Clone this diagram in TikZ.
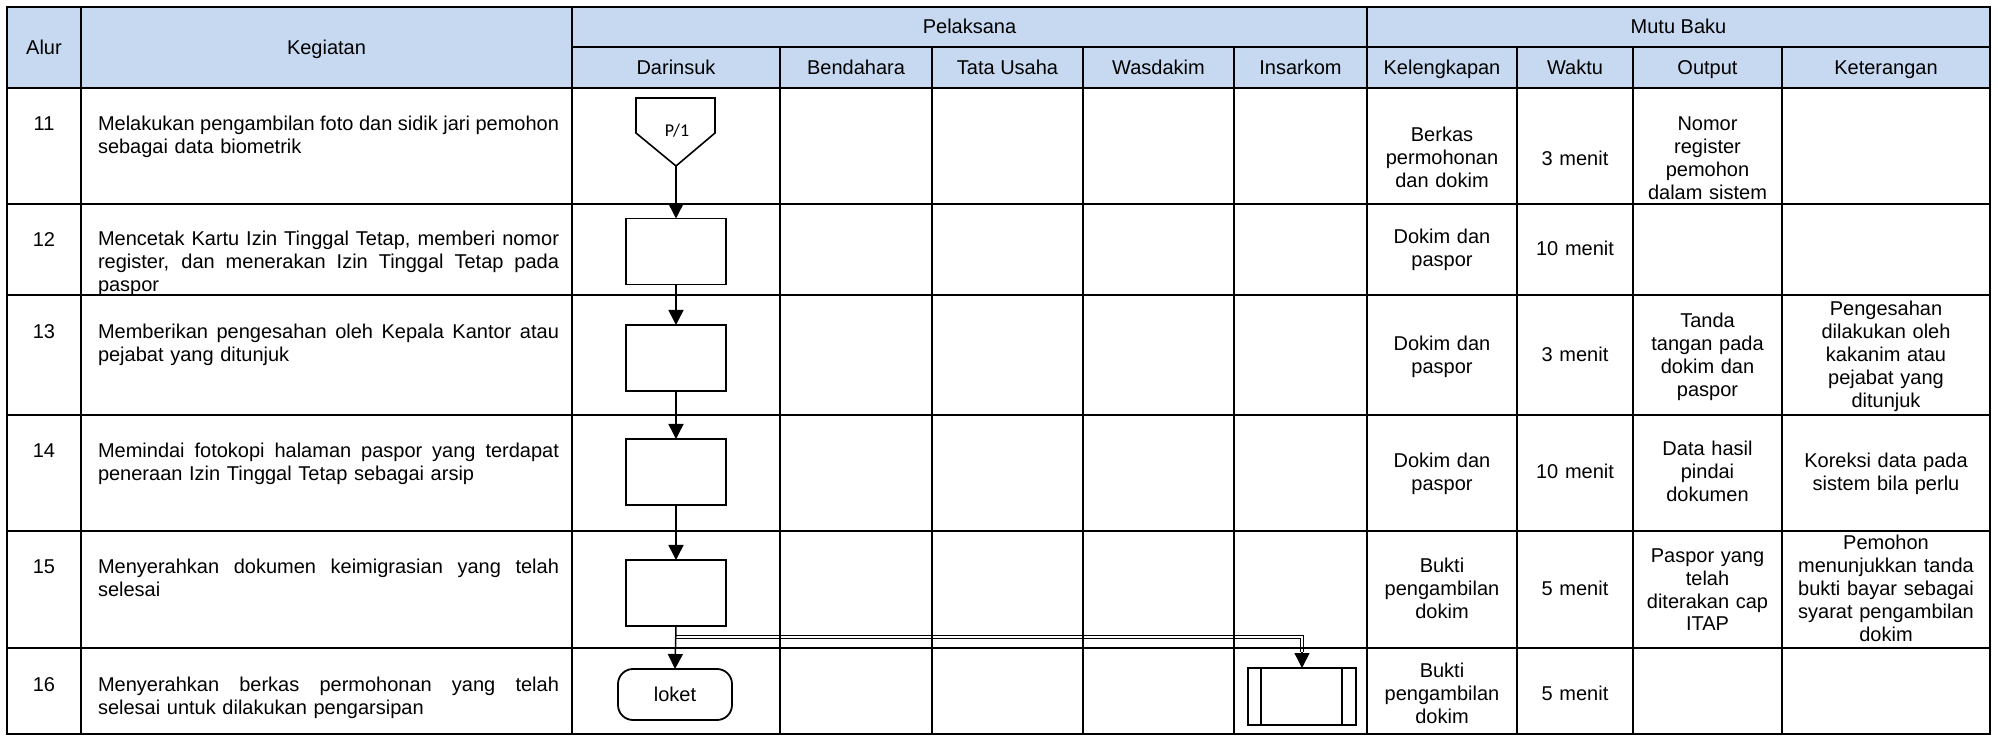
\documentclass[tikz,border=0pt]{standalone}
\usepackage{fontspec}
\setmainfont{Liberation Sans}
\newfontfamily\calfont{Carlito}
\usetikzlibrary{arrows.meta}
\definecolor{hdrblue}{RGB}{198,217,241}
\newcommand\jline[1]{\makebox[230.5pt][s]{\spaceskip=0pt\xspaceskip=0pt #1}}
\begin{document}
\begin{tikzpicture}[x=0.5pt,y=-0.5pt,
  every node/.style={inner sep=0pt, outer sep=0pt, font=\fontsize{10pt}{11.5pt}\selectfont},
  gridline/.style={line width=1.1pt, line cap=rect},
  hcell/.style={anchor=base, align=center},
  cell/.style={anchor=base, align=center, text width=100pt},
  keg/.style={anchor=base west, align=left, text width=230.5pt},
  num/.style={anchor=base},
  procbox/.style={draw, line width=0.9pt, minimum width=50pt, minimum height=33pt},
  arr/.style={line width=0.75pt, -{Triangle[length=7.5pt,width=7.5pt]}},
  dbl/.style={draw=black, double=white, double distance=0.8pt, line width=0.55pt}
]
\useasboundingbox (0,0) rectangle (1998,737);
% header background
\fill[hdrblue] (7,7) rectangle (1990,88);
% branch connector (drawn under the grid)
\coordinate (br) at (676,637);
\coordinate (bend) at (1302,637);
\coordinate (insin) at (1302,652);
\draw[dbl] (br) -- (bend) -- (insin);
% grid
\draw[gridline] (7,7) rectangle (1990,734);
\draw[gridline] (572,47) -- (1990,47);
\foreach \yy in {88,204,295,415,531,648} \draw[gridline] (7,\yy) -- (1990,\yy);
\foreach \xx in {81,572,1367} \draw[gridline] (\xx,7) -- (\xx,734);
\foreach \xx in {780,932,1083,1234,1517,1633,1782} \draw[gridline] (\xx,47) -- (\xx,734);
% header texts
\node[hcell] (hAlur) at (44,54.5) {Alur};
\node[hcell] (hKeg) at (326.5,54.5) {Kegiatan};
\node[hcell] (hPel) at (969.5,34) {Pelaksana};
\node[hcell] (hMutu) at (1678.5,34) {Mutu Baku};
\node[hcell] (hDar) at (676,74.5) {Darinsuk};
\node[hcell] (hBen) at (856,74.5) {Bendahara};
\node[hcell] (hTU) at (1007.5,74.5) {Tata Usaha};
\node[hcell] (hWas) at (1158.5,74.5) {Wasdakim};
\node[hcell] (hIns) at (1300.5,74.5) {Insarkom};
\node[hcell] (hKel) at (1442,74.5) {Kelengkapan};
\node[hcell] (hWak) at (1575,74.5) {Waktu};
\node[hcell] (hOut) at (1707.5,74.5) {Output};
\node[hcell] (hKet) at (1886,74.5) {Keterangan};
% row numbers
\node[num] (n11) at (44,131) {11};
\node[num] (n12) at (44,247) {12};
\node[num] (n13) at (44,339) {13};
\node[num] (n14) at (44,458) {14};
\node[num] (n15) at (44,574) {15};
\node[num] (n16) at (44,691) {16};
% kegiatan
\node[keg] (k11) at (98,131) {\jline{Melakukan pengambilan foto dan sidik jari pemohon}\\sebagai data biometrik};
\node[keg] (k12) at (98,246) {\jline{Mencetak Kartu Izin Tinggal Tetap, memberi nomor}\\\jline{register, dan menerakan Izin Tinggal Tetap pada}\\paspor};
\node[keg] (k13) at (98,339) {\jline{Memberikan pengesahan oleh Kepala Kantor atau}\\pejabat yang ditunjuk};
\node[keg] (k14) at (98,458) {\jline{Memindai fotokopi halaman paspor yang terdapat}\\peneraan Izin Tinggal Tetap sebagai arsip};
\node[keg] (k15) at (98,574) {\jline{Menyerahkan dokumen keimigrasian yang telah}\\selesai};
\node[keg] (k16) at (98,691) {\jline{Menyerahkan berkas permohonan yang telah}\\selesai untuk dilakukan pengarsipan};
% mutu baku cells
\node[cell] (kel11) at (1442,142) {Berkas\\permohonan\\dan dokim};
\node[cell] (wak11) at (1575,166) {3 menit};
\node[cell] (out11) at (1707.5,131) {Nomor\\register\\pemohon\\dalam sistem};
\node[cell] (kel12) at (1442,244) {Dokim dan\\paspor};
\node[cell] (wak12) at (1575,256) {10 menit};
\node[cell] (kel13) at (1442,351) {Dokim dan\\paspor};
\node[cell] (wak13) at (1575,362) {3 menit};
\node[cell] (out13) at (1707.5,328) {Tanda\\tangan pada\\dokim dan\\paspor};
\node[cell] (ket13) at (1886,316) {Pengesahan\\dilakukan oleh\\kakanim atau\\pejabat yang\\ditunjuk};
\node[cell] (kel14) at (1442,468) {Dokim dan\\paspor};
\node[cell] (wak14) at (1575,479) {10 menit};
\node[cell] (out14) at (1707.5,456) {Data hasil\\pindai\\dokumen};
\node[cell] (ket14) at (1886,468) {Koreksi data pada\\sistem bila perlu};
\node[cell] (kel15) at (1442,573) {Bukti\\pengambilan\\dokim};
\node[cell] (wak15) at (1575,596) {5 menit};
\node[cell] (out15) at (1707.5,562) {Paspor yang\\telah\\diterakan cap\\ITAP};
\node[cell] (ket15) at (1886,550) {Pemohon\\menunjukkan tanda\\bukti bayar sebagai\\syarat pengambilan\\dokim};
\node[cell] (kel16) at (1442,677) {Bukti\\pengambilan\\dokim};
\node[cell] (wak16) at (1575,700) {5 menit};
% flow shapes
\draw[line width=0.8pt] (636,98) -- (715,98) -- (715,133) -- (676,166) -- (636,133) -- cycle;
\coordinate (p1tip) at (676,166);
\node[font=\calfont\fontsize{9pt}{10pt}\selectfont] (p1) at (677,131) {P/1};
\node[procbox] (b12) at (676,251.5) {};
\node[procbox] (b13) at (676,358) {};
\node[procbox] (b14) at (676,472) {};
\node[procbox] (b15) at (676,593) {};
\node[draw, line width=0.9pt, rounded corners=7.5pt, minimum width=57pt, minimum height=25.5pt] (loket) at (675,694.5) {loket};
\node[draw, line width=0.9pt, minimum width=54pt, minimum height=28.5pt] (ins) at (1302,696.5) {};
\draw[line width=0.9pt] ([xshift=6.5pt]ins.north west) -- ([xshift=6.5pt]ins.south west);
\draw[line width=0.9pt] ([xshift=-7pt]ins.north east) -- ([xshift=-7pt]ins.south east);
% connectors
\draw[arr] (insin) -- (ins.north);
\draw[arr] (p1tip) -- (b12.north);
\draw[arr] (b12.south) -- (b13.north);
\draw[arr] (b13.south) -- (b14.north);
\draw[arr] (b14.south) -- (b15.north);
\draw[arr] (b15.south) -- (loket.north);
\end{tikzpicture}
\end{document}
